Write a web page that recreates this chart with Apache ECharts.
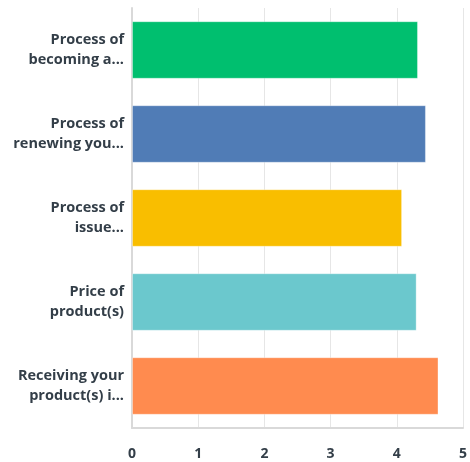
<!DOCTYPE html>
<html><head><meta charset="utf-8">
<script src="https://cdn.jsdelivr.net/npm/echarts@6/dist/echarts.min.js"></script>
<style>html,body{margin:0;padding:0;background:#fff}#c{width:470px;height:462px}</style>
</head><body><div id="c"></div>
<script>
const categories = ["Process of\nbecoming a...", "Process of\nrenewing you...", "Process of\nissue...", "Price of\nproduct(s)", "Receiving your\nproduct(s) i..."];
const values = [4.32, 4.44, 4.08, 4.30, 4.63];
const colors = ["#00bf6f", "#507cb6", "#f9be00", "#6bc8cd", "#ff8b4f"];
const xTicks = [0, 1, 2, 3, 4, 5];

const chart = echarts.init(document.getElementById('c'));
chart.setOption({
  animation: false,
  grid: { left: 132, right: 3, top: 8, bottom: 34, containLabel: false },
  xAxis: {
    type: 'value', min: 0, max: 5, interval: 1,
    axisLine: { show: true, lineStyle: { color: '#d9d9d9', width: 2 } },
    axisTick: { show: false },
    splitLine: { show: true, lineStyle: { color: '#e6e6e6', width: 1 } },
    axisLabel: { color: '#333e48', fontFamily: 'Open Sans', fontWeight: 'bold', fontSize: 14, margin: 19,
      showMaxLabel: true, hideOverlap: false,
      formatter: v => xTicks.includes(v) ? String(v) : '' }
  },
  yAxis: {
    type: 'category', data: categories, inverse: true,
    axisLine: { show: true, lineStyle: { color: '#d9d9d9', width: 2 } },
    axisTick: { show: false },
    axisLabel: { color: '#333e48', fontFamily: 'Open Sans', fontWeight: 'bold', fontSize: 14.5, lineHeight: 20, margin: 8, align: 'right' }
  },
  series: [{
    type: 'bar',
    data: values.map((v, i) => ({ value: v, itemStyle: { color: colors[i] } })),
    barCategoryGap: '31.5%',
    itemStyle: { borderColor: 'rgba(255,255,255,0.35)', borderWidth: 1 }
  }]
});
</script></body></html>
